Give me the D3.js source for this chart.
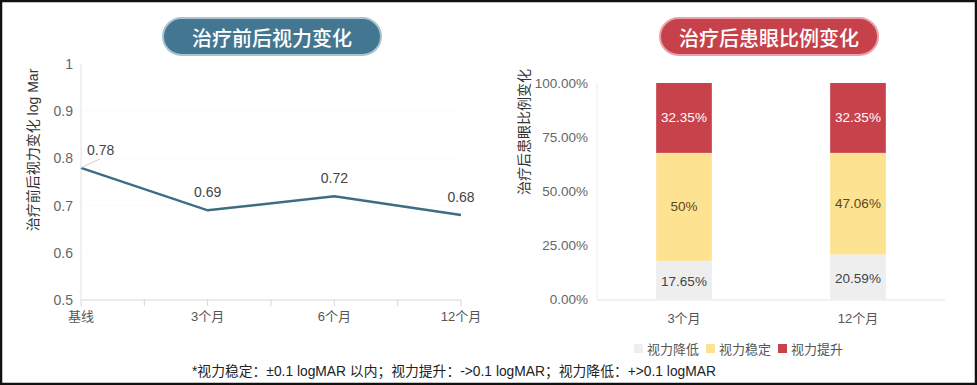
<!DOCTYPE html>
<html>
<head>
<meta charset="utf-8">
<script src="https://cdn.jsdelivr.net/npm/d3@7"></script>
<style>
  body { margin: 0; background: #fff; }
  svg { display: block; font-family: "Liberation Sans", "Noto Sans CJK SC", sans-serif; }
</style>
</head>
<body>
<div id="chart"></div>
<script>
// Left chart data
const timePoints = ["基线", "3个月", "6个月", "12个月"];
const visionValues = [0.78, 0.69, 0.72, 0.68];
const leftTicks = [0.5, 0.6, 0.7, 0.8, 0.9, 1];

// Right chart data
const barCategories = ["3个月", "12个月"];
const seriesNames = ["视力降低", "视力稳定", "视力提升"];
const declineValues = [17.65, 20.59];
const stableValues = [50, 47.06];
const improveValues = [32.35, 32.35];
const rightTicks = [0, 25, 50, 75, 100];

const width = 977, height = 385;
const svg = d3.select("#chart").append("svg")
  .attr("width", width)
  .attr("height", height);

svg.append("rect")
  .attr("x", 1).attr("y", 1)
  .attr("width", width - 2).attr("height", height - 2)
  .attr("fill", "#fff")
  .attr("stroke", "#111")
  .attr("stroke-width", 2.5);

// Title pills
function pill(cx, text, fill, stroke) {
  const w = 218, h = 37;
  svg.append("rect")
    .attr("x", cx - w / 2).attr("y", 18)
    .attr("width", w).attr("height", h)
    .attr("rx", h / 2)
    .attr("fill", fill)
    .attr("stroke", stroke)
    .attr("stroke-width", 2);
  svg.append("text")
    .attr("x", cx).attr("y", 37)
    .attr("text-anchor", "middle")
    .attr("dominant-baseline", "central")
    .attr("fill", "#fff")
    .attr("font-size", "20px")
    .attr("font-weight", "500")
    .attr("font-family", "Noto Sans CJK SC")
    .text(text);
}
pill(272, "治疗前后视力变化", "#437690", "#a9c3d0");
pill(769, "治疗后患眼比例变化", "#c7414a", "#e9a3a8");

// ---------- Left line chart ----------
const lx = d3.scalePoint().domain(timePoints).range([81, 461]);
const ly = d3.scaleLinear().domain([0.5, 1]).range([300, 64]);

const left = svg.append("g");

// faint gridlines
left.selectAll(".grid")
  .data(leftTicks.slice(1))
  .enter().append("line")
  .attr("x1", 81).attr("x2", 461)
  .attr("y1", (d) => ly(d)).attr("y2", (d) => ly(d))
  .attr("stroke", "#fbfbfb");

// y axis
left.append("line")
  .attr("x1", 81).attr("x2", 81)
  .attr("y1", ly(1)).attr("y2", ly(0.5))
  .attr("stroke", "#e2e2e2");
left.selectAll(".ytick")
  .data(leftTicks)
  .enter().append("text")
  .attr("x", 73)
  .attr("y", (d) => ly(d))
  .attr("text-anchor", "end")
  .attr("dominant-baseline", "central")
  .attr("fill", "#666")
  .attr("font-size", "14px")
  .text((d) => d);

// x axis
left.append("line")
  .attr("x1", 81).attr("x2", 461)
  .attr("y1", 300).attr("y2", 300)
  .attr("stroke", "#d6d6d6");
const step = lx.step();
const tickXs = [];
timePoints.forEach((t, i) => {
  tickXs.push(lx(t));
  if (i < timePoints.length - 1) tickXs.push(lx(t) + step / 2);
});
left.selectAll(".xtickmark")
  .data(tickXs)
  .enter().append("line")
  .attr("x1", (d) => d).attr("x2", (d) => d)
  .attr("y1", 300).attr("y2", 306)
  .attr("stroke", "#d6d6d6");
left.selectAll(".xtick")
  .data(timePoints)
  .enter().append("text")
  .attr("x", (d) => lx(d))
  .attr("y", 321)
  .attr("text-anchor", "middle")
  .attr("fill", "#555")
  .attr("font-size", "13px")
  .text((d) => d);

// y label
left.append("text")
  .attr("transform", `translate(33, 150) rotate(-90)`)
  .attr("text-anchor", "middle")
  .attr("dominant-baseline", "central")
  .attr("fill", "#333")
  .attr("font-size", "14px")
  .text("治疗前后视力变化 log Mar");

const lineGen = d3.line()
  .x((d, i) => lx(timePoints[i]))
  .y((d) => ly(d));
left.append("path")
  .datum(visionValues)
  .attr("d", lineGen)
  .attr("fill", "none")
  .attr("stroke", "#3e6c80")
  .attr("stroke-width", 2.5);

visionValues.forEach((v, i) => {
  const x = lx(timePoints[i]), y = ly(v);
  if (i === 0) {
    left.append("line")
      .attr("x1", x).attr("y1", y)
      .attr("x2", x + 19).attr("y2", y - 9)
      .attr("stroke", "#ccc");
    left.append("text")
      .attr("x", x + 6).attr("y", y - 13)
      .attr("fill", "#444")
      .attr("font-size", "14px")
      .text(v.toFixed(2));
  } else {
    left.append("text")
      .attr("x", x).attr("y", y - 13)
      .attr("text-anchor", "middle")
      .attr("fill", "#444")
      .attr("font-size", "14px")
      .text(v.toFixed(2));
  }
});

// ---------- Right stacked bar chart ----------
const bx = d3.scaleBand().domain(barCategories).range([597, 945]).paddingInner(0.68).paddingOuter(0.34);
const by = d3.scaleLinear().domain([0, 100]).range([299, 83]);
const colors = ["#eeeeee", "#fde292", "#c8424b"];
const textColors = ["#444", "#5a4a20", "#fff"];

const right = svg.append("g");

right.selectAll(".rtick")
  .data(rightTicks)
  .enter().append("text")
  .attr("x", 588)
  .attr("y", (d) => by(d))
  .attr("text-anchor", "end")
  .attr("dominant-baseline", "central")
  .attr("fill", "#666")
  .attr("font-size", "13.5px")
  .text((d) => d.toFixed(2) + "%");

right.append("line")
  .attr("x1", 597).attr("x2", 597)
  .attr("y1", by(100)).attr("y2", by(0))
  .attr("stroke", "#ececec");

right.append("text")
  .attr("transform", `translate(524, 132) rotate(-90)`)
  .attr("text-anchor", "middle")
  .attr("dominant-baseline", "central")
  .attr("fill", "#333")
  .attr("font-size", "14px")
  .text("治疗后患眼比例变化");

const table = barCategories.map((c, i) => ({
  category: c,
  "视力降低": declineValues[i],
  "视力稳定": stableValues[i],
  "视力提升": improveValues[i],
}));
const stacked = d3.stack().keys(seriesNames)(table);

stacked.forEach((layer, si) => {
  layer.forEach((d) => {
    const x = bx(d.data.category);
    right.append("rect")
      .attr("x", x)
      .attr("y", by(d[1]))
      .attr("width", bx.bandwidth())
      .attr("height", by(d[0]) - by(d[1]))
      .attr("fill", colors[si]);
    const val = d.data[layer.key];
    right.append("text")
      .attr("x", x + bx.bandwidth() / 2)
      .attr("y", (by(d[0]) + by(d[1])) / 2 + (si === 0 ? 2 : 0))
      .attr("text-anchor", "middle")
      .attr("dominant-baseline", "central")
      .attr("fill", textColors[si])
      .attr("font-size", "13.5px")
      .text(val + "%");
  });
});

right.append("line")
  .attr("x1", 597).attr("x2", 945)
  .attr("y1", 300).attr("y2", 300)
  .attr("stroke", "#e3e3e3");

right.selectAll(".btick")
  .data(barCategories)
  .enter().append("text")
  .attr("x", (d) => bx(d) + bx.bandwidth() / 2)
  .attr("y", 323)
  .attr("text-anchor", "middle")
  .attr("fill", "#555")
  .attr("font-size", "13px")
  .text((d) => d);

// legend
const legendX = [634, 706, 778];
seriesNames.forEach((name, i) => {
  right.append("rect")
    .attr("x", legendX[i]).attr("y", 344)
    .attr("width", 9).attr("height", 9)
    .attr("fill", colors[i]);
  right.append("text")
    .attr("x", legendX[i] + 13).attr("y", 349)
    .attr("dominant-baseline", "central")
    .attr("fill", "#555")
    .attr("font-size", "13px")
    .text(name);
});

// footnote
svg.append("text")
  .attr("x", 192).attr("y", 371)
  .attr("dominant-baseline", "central")
  .attr("fill", "#222")
  .attr("font-size", "13.8px")
  .text("*视力稳定：±0.1 logMAR 以内；视力提升：->0.1 logMAR；视力降低：+>0.1 logMAR");
</script>
</body>
</html>
